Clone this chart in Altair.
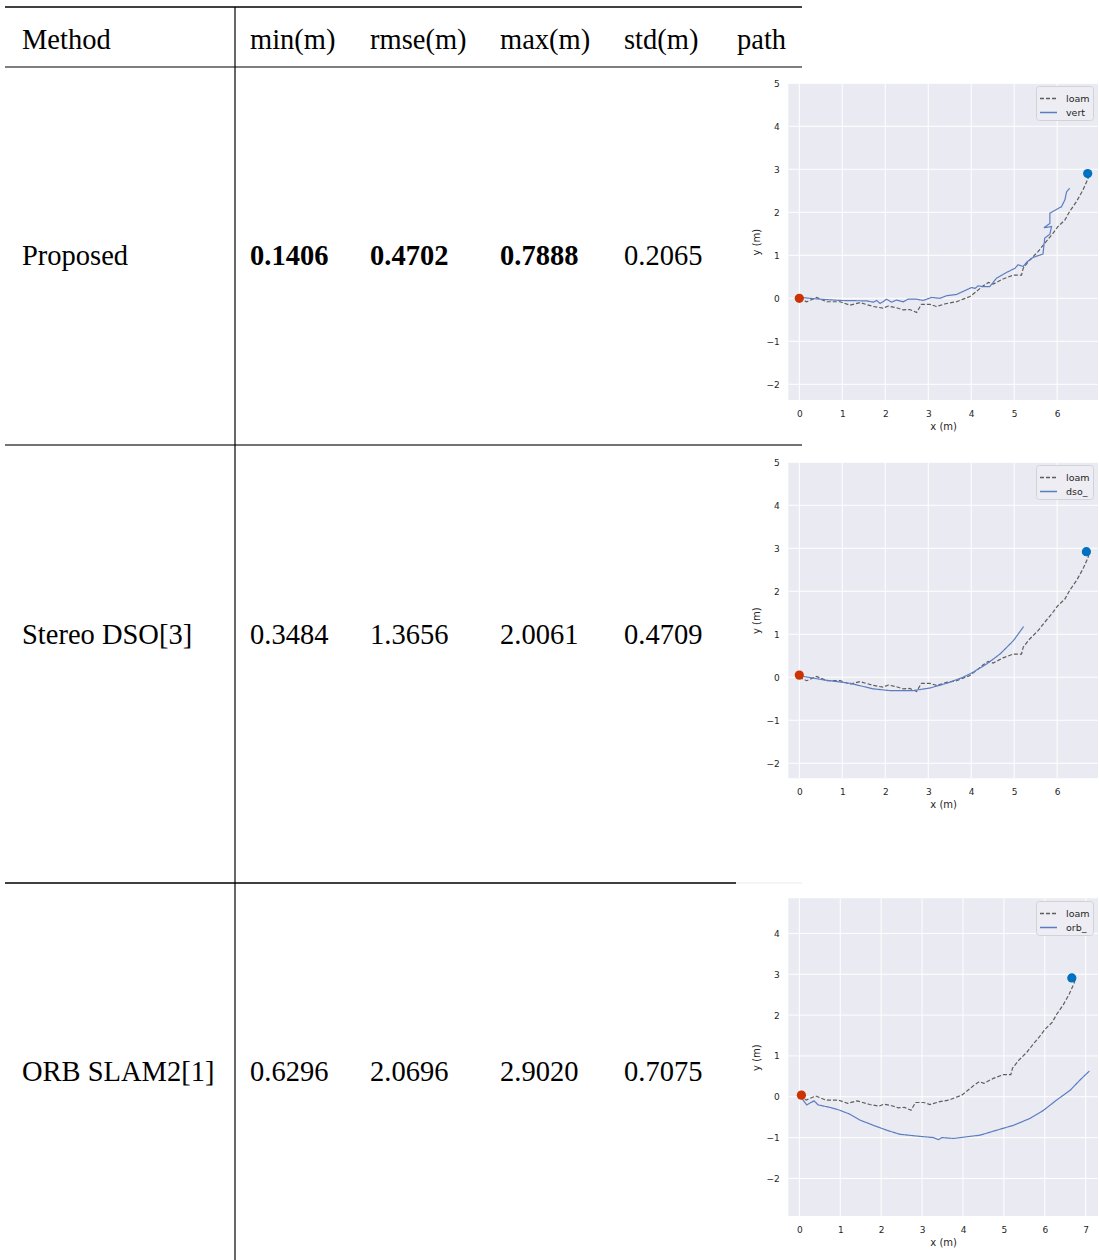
import altair as alt
import pandas as pd

W, H = 1099, 1260
TXT = "#262626"
SERIF = "Liberation Serif"
SANS = "DejaVu Sans"

# ---------------- table contents ----------------
HEADERS = ["Method", "min(m)", "rmse(m)", "max(m)", "std(m)", "path"]
METHODS = ["Proposed", "Stereo DSO[3]", "ORB SLAM2[1]"]
MIN_M = [0.1406, 0.3484, 0.6296]
RMSE_M = [0.4702, 1.3656, 2.0696]
MAX_M = [0.7888, 2.0061, 2.9020]
STD_M = [0.2065, 0.4709, 0.7075]
BOLD = [[True, True, True, False], [False] * 4, [False] * 4]

# table layout (pixels)
COL_X = [22, 250, 370, 500, 624, 737]
HEADER_Y = 49
ROW_Y = [265, 644, 1081]
FONT_SIZE = 28.5

# ---------------- trajectories ----------------
LOAM_X = [0.00, 0.17, 0.40, 0.64, 0.95, 1.18, 1.41, 1.72, 1.95, 2.07, 2.26, 2.42, 2.57,
          2.73, 2.84, 3.04, 3.19, 3.43, 3.66, 3.81, 3.97, 4.12, 4.28, 4.40, 4.51, 4.74,
          4.98, 5.17, 5.21, 5.36, 5.56, 5.71, 5.87, 6.02, 6.18, 6.29, 6.45, 6.60, 6.72, 6.74]
LOAM_Y = [0.00, -0.08, 0.02, -0.08, -0.08, -0.16, -0.10, -0.19, -0.23, -0.18, -0.22, -0.27, -0.26,
          -0.33, -0.14, -0.14, -0.19, -0.12, -0.08, -0.02, 0.04, 0.16, 0.29, 0.37, 0.33, 0.45,
          0.54, 0.54, 0.70, 0.89, 1.09, 1.28, 1.47, 1.67, 1.82, 2.02, 2.25, 2.52, 2.79, 2.88]

VERT_X = [0.02, 0.48, 0.95, 1.57, 1.72, 1.80, 1.88, 1.95, 2.03, 2.15, 2.26, 2.42, 2.53, 2.73,
          2.88, 3.08, 3.27, 3.43, 3.66, 3.81, 4.01, 4.09, 4.16, 4.28, 4.43, 4.59, 4.82, 5.02,
          5.09, 5.21, 5.29, 5.44, 5.67, 5.71, 5.83, 5.87, 5.69, 5.83, 5.83, 6.10, 6.18, 6.22, 6.29]
VERT_Y = [0.02, -0.02, -0.05, -0.06, -0.09, -0.05, -0.12, -0.08, -0.02, -0.09, -0.04, -0.08, -0.02, -0.02,
          -0.05, 0.02, 0.00, 0.06, 0.09, 0.16, 0.25, 0.23, 0.29, 0.27, 0.27, 0.47, 0.60, 0.70,
          0.78, 0.74, 0.84, 0.95, 1.03, 1.40, 1.49, 1.67, 1.64, 1.74, 1.98, 2.13, 2.29, 2.48, 2.56]

DSO_X = [0.09, 0.56, 1.18, 1.72, 2.11, 2.65, 3.04, 3.43, 3.81, 4.05, 4.36, 4.67, 4.98, 5.22]
DSO_Y = [0.02, -0.06, -0.14, -0.27, -0.31, -0.31, -0.25, -0.14, 0.00, 0.12, 0.31, 0.54, 0.85, 1.18]

ORB_X = [0.06, 0.18, 0.36, 0.46, 0.75, 0.99, 1.24, 1.48, 1.81, 2.14, 2.46, 2.95, 3.28, 3.40,
         3.48, 3.77, 4.09, 4.42, 4.82, 5.23, 5.64, 5.97, 6.29, 6.62, 6.86, 7.09]
ORB_Y = [-0.04, -0.20, -0.10, -0.20, -0.26, -0.33, -0.43, -0.57, -0.70, -0.82, -0.92, -0.97, -1.00, -1.05,
         -1.00, -1.02, -0.98, -0.94, -0.82, -0.70, -0.53, -0.33, -0.08, 0.16, 0.41, 0.63]

PANELS = [
    dict(name="vert", ex=VERT_X, ey=VERT_Y, start=(0.00, 0.00), end=(6.71, 2.90),
         xdom=[-0.256, 6.95], ydom=[-2.365, 5.0], xticks=list(range(0, 7)), yticks=list(range(-2, 6)),
         left=788.3, right=1098, top=83.3, bottom=400, legend=(1036, 86)),
    dict(name="dso_", ex=DSO_X, ey=DSO_Y, start=(0.00, 0.05), end=(6.68, 2.92),
         xdom=[-0.256, 6.95], ydom=[-2.35, 5.0], xticks=list(range(0, 7)), yticks=list(range(-2, 6)),
         left=788.3, right=1098, top=462.3, bottom=778.3, legend=(1036, 465)),
    dict(name="orb_", ex=ORB_X, ey=ORB_Y, start=(0.05, 0.04), end=(6.66, 2.91),
         xdom=[-0.27, 7.30], ydom=[-2.92, 4.86], xticks=list(range(0, 8)), yticks=list(range(-2, 5)),
         left=788.3, right=1098, top=898.3, bottom=1216, legend=(1036, 901)),
]


def table_layer():
    tx = alt.Scale(domain=[0, W], range=[0, W], nice=False, zero=False)
    ty = alt.Scale(domain=[0, H], range=[0, H], nice=False, zero=False)

    cells = []
    for c, h in enumerate(HEADERS):
        cells.append(dict(x=COL_X[c], y=HEADER_Y, label=h, bold=False))
    for r, m in enumerate(METHODS):
        cells.append(dict(x=COL_X[0], y=ROW_Y[r], label=m, bold=False))
        for c, col in enumerate([MIN_M, RMSE_M, MAX_M, STD_M]):
            cells.append(dict(x=COL_X[c + 1], y=ROW_Y[r], label=f"{col[r]:.4f}", bold=BOLD[r][c]))
    cells = pd.DataFrame(cells)

    rules = pd.DataFrame([
        dict(x0=5, x1=802, y0=7, y1=7, c="#000000", w=1.4),
        dict(x0=5, x1=802, y0=67, y1=67, c="#000000", w=1.2),
        dict(x0=5, x1=802, y0=445, y1=445, c="#444444", w=1.6),
        dict(x0=5, x1=736, y0=883, y1=883, c="#000000", w=1.4),
        dict(x0=736, x1=802, y0=883, y1=883, c="#ececf2", w=1.2),
        dict(x0=235, x1=235, y0=7, y1=H, c="#000000", w=1.2),
    ])

    def text(df, weight):
        return alt.Chart(df).mark_text(
            font=SERIF, fontSize=FONT_SIZE, fontWeight=weight, align="left",
            baseline="alphabetic", color="#000000"
        ).encode(
            x=alt.X("x:Q", scale=tx, axis=None),
            y=alt.Y("y:Q", scale=ty, axis=None),
            text="label:N",
        )

    lines = alt.Chart(rules).mark_rule().encode(
        x=alt.X("x0:Q", scale=tx, axis=None), x2="x1:Q",
        y=alt.Y("y0:Q", scale=ty, axis=None), y2="y1:Q",
        color=alt.Color("c:N", scale=None),
        strokeWidth=alt.StrokeWidth("w:Q", scale=None),
    )
    return alt.layer(lines, text(cells[~cells.bold], "normal"), text(cells[cells.bold], "bold"))


def trajectory_panel(p):
    xs = alt.Scale(domain=p["xdom"], range=[p["left"], p["right"]], nice=False, zero=False)
    ys = alt.Scale(domain=p["ydom"], range=[p["bottom"], p["top"]], nice=False, zero=False)
    common = dict(grid=False, domain=False, ticks=False, labelFlush=False, format="d",
                  labelFont=SANS, titleFont=SANS, labelFontSize=9, titleFontSize=10,
                  labelColor=TXT, titleColor=TXT, titleFontWeight="normal", labelPadding=9)
    xaxis = alt.Axis(values=p["xticks"], orient="bottom", offset=p["bottom"] - H,
                     title="x (m)", titlePadding=3, **common)
    yaxis = alt.Axis(values=p["yticks"], orient="left", offset=-p["left"],
                     title="y (m)", titlePadding=5, **common)

    bg = pd.DataFrame([dict(x0=p["xdom"][0], x1=p["xdom"][1], y0=p["ydom"][0], y1=p["ydom"][1])])
    background = alt.Chart(bg).mark_rect(color="#eaeaf2").encode(
        x=alt.X("x0:Q", scale=xs, axis=xaxis), x2="x1:Q",
        y=alt.Y("y0:Q", scale=ys, axis=yaxis), y2="y1:Q",
    )

    vgrid = pd.DataFrame(dict(gx=p["xticks"], y0=p["ydom"][0], y1=p["ydom"][1]))
    hgrid = pd.DataFrame(dict(gy=p["yticks"], x0=p["xdom"][0], x1=p["xdom"][1]))
    grid_v = alt.Chart(vgrid).mark_rule(color="white", strokeWidth=1).encode(
        x=alt.X("gx:Q", scale=xs, axis=xaxis),
        y=alt.Y("y0:Q", scale=ys, axis=yaxis), y2="y1:Q",
    )
    grid_h = alt.Chart(hgrid).mark_rule(color="white", strokeWidth=1).encode(
        y=alt.Y("gy:Q", scale=ys, axis=yaxis),
        x=alt.X("x0:Q", scale=xs, axis=xaxis), x2="x1:Q",
    )

    rows = [dict(x=x, y=y, series="loam", i=i) for i, (x, y) in enumerate(zip(LOAM_X, LOAM_Y))]
    rows += [dict(x=x, y=y, series=p["name"], i=i) for i, (x, y) in enumerate(zip(p["ex"], p["ey"]))]
    traj = pd.DataFrame(rows)
    legend = alt.Legend(
        orient="none", legendX=p["legend"][0], legendY=p["legend"][1], title=None,
        symbolType="stroke", symbolSize=289, symbolStrokeWidth=1.3,
        labelFont=SANS, labelFontSize=9.5, labelColor=TXT, labelOffset=8,
        rowPadding=-3, padding=3, fillColor="#ededf3", strokeColor="#d2d2da", cornerRadius=3,
    )
    lines = alt.Chart(traj).mark_line(strokeWidth=1.2).encode(
        x=alt.X("x:Q", scale=xs, axis=xaxis),
        y=alt.Y("y:Q", scale=ys, axis=yaxis),
        color=alt.Color("series:N", legend=legend,
                        scale=alt.Scale(domain=["loam", p["name"]], range=["#5e5e5e", "#5b7ec1"])),
        strokeDash=alt.StrokeDash("series:N", legend=legend,
                                  scale=alt.Scale(domain=["loam", p["name"]], range=[[4, 2], [1, 0]])),
        detail="series:N",
        order="i:Q",
    )

    def marker(pt, color):
        return alt.Chart(pd.DataFrame([dict(x=pt[0], y=pt[1])])).mark_circle(
            color=color, size=85, opacity=1
        ).encode(
            x=alt.X("x:Q", scale=xs, axis=xaxis),
            y=alt.Y("y:Q", scale=ys, axis=yaxis),
        )

    return alt.layer(background, grid_v, grid_h, lines,
                     marker(p["start"], "#cc3300"), marker(p["end"], "#0070c0"))


chart = alt.layer(
    table_layer(), *[trajectory_panel(p) for p in PANELS]
).resolve_scale(
    x="independent", y="independent", color="independent", strokeDash="independent"
).resolve_axis(
    x="independent", y="independent"
).resolve_legend(
    color="independent", strokeDash="independent"
).properties(
    width=W, height=H, padding=0, autosize="none", background="white"
).configure_view(stroke=None)

chart.save("out.html", embed_options={"renderer": "svg", "actions": False})
